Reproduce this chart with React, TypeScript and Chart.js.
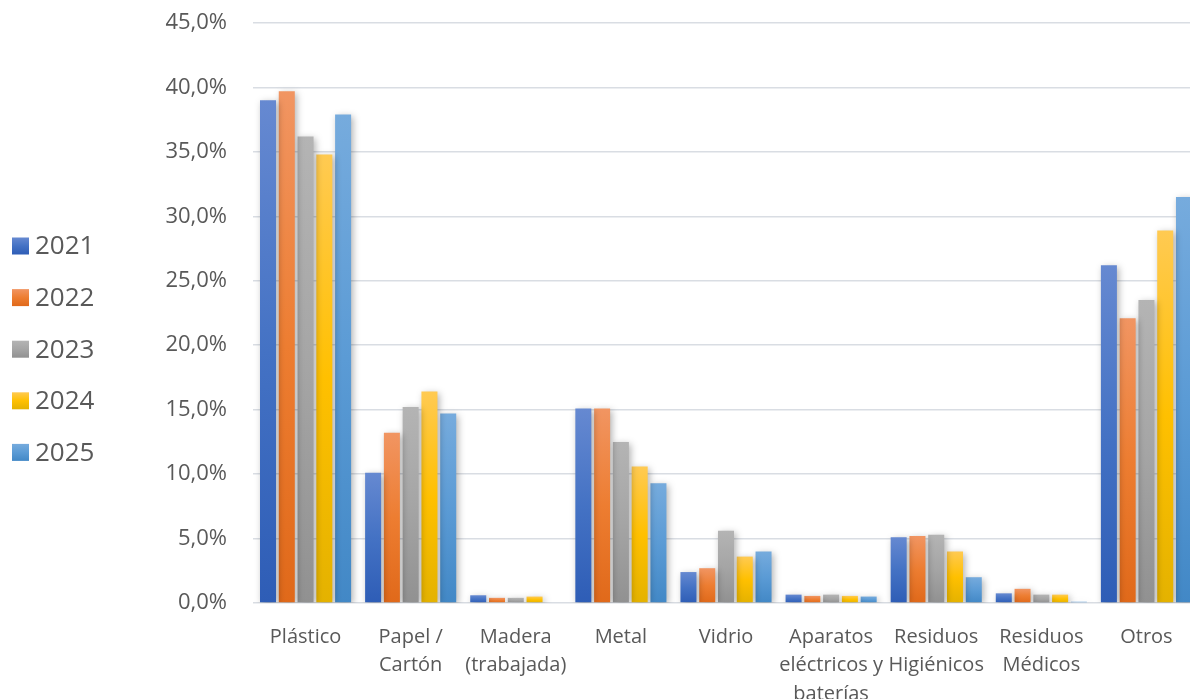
import { useEffect, useRef } from 'react';
import { Chart, registerables } from 'chart.js';

Chart.register(...registerables);

// Waste categories (multi-line labels as drawn under the axis)
const categories: string[][] = [
  ['Plástico'],
  ['Papel /', 'Cartón'],
  ['Madera', '(trabajada)'],
  ['Metal'],
  ['Vidrio'],
  ['Aparatos', 'eléctricos y', 'baterías'],
  ['Residuos', 'Higiénicos'],
  ['Residuos', 'Médicos'],
  ['Otros'],
];

const years = ['2021', '2022', '2023', '2024', '2025'];

// Share of each category per year (%)
const values2021 = [39.0, 10.1, 0.6, 15.1, 2.4, 0.65, 5.1, 0.75, 26.2];
const values2022 = [39.7, 13.2, 0.4, 15.1, 2.7, 0.55, 5.2, 1.1, 22.1];
const values2023 = [36.2, 15.2, 0.4, 12.5, 5.6, 0.65, 5.3, 0.65, 23.5];
const values2024 = [34.8, 16.4, 0.5, 10.6, 3.6, 0.55, 4.0, 0.65, 28.9];
const values2025 = [37.9, 14.7, 0.0, 9.3, 4.0, 0.5, 2.0, 0.1, 31.5];

const yMin = 0;
const yMax = 45;
const yStep = 5;

// Gradient stops per series: light top, base, dark bottom
const colorTop = ['#6689d1', '#f19562', '#b4b4b4', '#ffca52', '#76abdd'];
const colorMid = ['#4472c4', '#ed7d31', '#a5a5a5', '#ffc000', '#5b9bd5'];
const colorBottom = ['#2e5db6', '#e0691a', '#919191', '#e4b200', '#4288c6'];

const seriesValues = [values2021, values2022, values2023, values2024, values2025];

const FONT = '"Open Sans", "Noto Sans", sans-serif';
const TEXT = '#595959';

function barGradient(chart: Chart, i: number, top: number, bottom: number) {
  const g = chart.ctx.createLinearGradient(0, top, 0, bottom);
  g.addColorStop(0, colorTop[i]);
  g.addColorStop(0.5, colorMid[i]);
  g.addColorStop(1, colorBottom[i]);
  return g;
}

// Soft drop shadow behind the bars
const barShadow = {
  id: 'barShadow',
  beforeDatasetsDraw(chart: Chart) {
    const ctx = chart.ctx;
    ctx.save();
    ctx.shadowColor = 'rgba(0,0,0,0.3)';
    ctx.shadowBlur = 7;
    ctx.shadowOffsetX = 2;
    ctx.shadowOffsetY = 2;
  },
  afterDatasetsDraw(chart: Chart) {
    chart.ctx.restore();
  },
};

// Series key stacked on the left side
const sideLegend = {
  id: 'sideLegend',
  afterDraw(chart: Chart) {
    const ctx = chart.ctx;
    ctx.save();
    ctx.font = `26px ${FONT}`;
    ctx.textBaseline = 'middle';
    ctx.textAlign = 'left';
    chart.data.datasets.forEach((ds, i) => {
      const cy = 246 + i * 51.6;
      const bx = 12;
      const size = 17;
      ctx.fillStyle = barGradient(chart, i, cy - size / 2, cy + size / 2);
      ctx.fillRect(bx, cy - size / 2, size, size);
      ctx.fillStyle = TEXT;
      ctx.fillText(String(ds.label), 35, cy + 1);
    });
    ctx.restore();
  },
};

export default function App() {
  const canvasRef = useRef<HTMLCanvasElement | null>(null);

  useEffect(() => {
    const canvas = canvasRef.current;
    if (!canvas) return;

    const chart = new Chart(canvas, {
      type: 'bar',
      data: {
        labels: categories,
        datasets: years.map((year, i) => ({
          label: year,
          data: seriesValues[i],
          backgroundColor: (c: any) => {
            const ch = c.chart as Chart;
            const y = ch.scales?.y;
            if (!ch.chartArea || !y || c.type !== 'data') return colorMid[i];
            const top = y.getPixelForValue(c.raw as number);
            const bottom = y.getPixelForValue(0);
            if (!(bottom > top)) return colorMid[i];
            return barGradient(ch, i, top, bottom);
          },
          borderWidth: 0,
          categoryPercentage: 0.893,
          barPercentage: 0.853,
        })),
      },
      options: {
        responsive: false,
        animation: false,
        devicePixelRatio: 1,
        layout: { padding: { top: 23, left: 0, right: 0, bottom: 0 } },
        plugins: {
          legend: { display: false },
          tooltip: { enabled: false },
          title: { display: false },
        },
        scales: {
          x: {
            grid: { display: false, drawTicks: false },
            border: { display: false },
            ticks: {
              color: TEXT,
              font: { family: FONT, size: 20, lineHeight: 1.42 },
              padding: 20,
              maxRotation: 0,
              autoSkip: false,
            },
            afterFit: (scale: any) => {
              scale.height = 96;
              scale.paddingTop = 0;
              scale.paddingBottom = 0;
            },
          },
          y: {
            min: yMin,
            max: yMax,
            grid: {
              color: 'rgb(217,221,227)',
              lineWidth: 1.6,
              drawTicks: false,
            },
            border: { display: false },
            ticks: {
              stepSize: yStep,
              color: TEXT,
              font: { family: FONT, size: 22 },
              padding: 26,
              callback: (v: any) => Number(v).toFixed(1).replace('.', ',') + '%',
            },
            afterFit: (scale: any) => {
              scale.width = 253;
              scale.paddingTop = 0;
              scale.paddingBottom = 0;
            },
          },
        },
      },
      plugins: [barShadow, sideLegend],
    });

    return () => chart.destroy();
  }, []);

  return (
    <div
      style={{
        position: 'fixed',
        left: 0,
        top: 0,
        width: 1190,
        height: 699,
        overflow: 'hidden',
        background: '#ffffff',
      }}
    >
      <canvas ref={canvasRef} width={1199} height={699} style={{ display: 'block' }} />
    </div>
  );
}
